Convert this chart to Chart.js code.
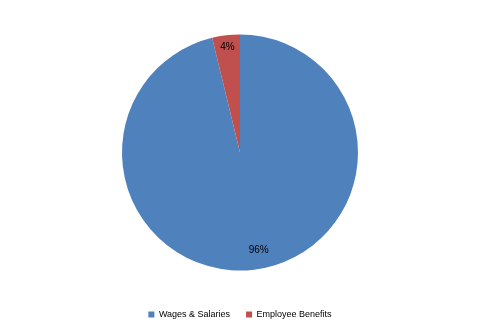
<!DOCTYPE html>
<html>
<head>
<meta charset="utf-8">
<script src="https://cdn.jsdelivr.net/npm/chart.js@4/dist/chart.umd.min.js"></script>
<style>
html, body { margin: 0; padding: 0; background: #fff; }
#wrap { width: 480px; height: 333px; }
</style>
</head>
<body>
<div id="wrap"><canvas id="grafica"></canvas></div>
<script>
// datos del gráfico
const categorias = ['Wages & Salaries', 'Employee Benefits'];
const valores = [96.2, 3.8];
const colores = ['#4F81BD', '#C0504D'];

// etiquetas de porcentaje dentro de cada sector
const etiquetas = {
  id: 'etiquetas',
  afterDatasetsDraw(chart) {
    const ctx = chart.ctx;
    const total = valores.reduce((a, b) => a + b, 0);
    const meta = chart.getDatasetMeta(0);
    const dist = [0.84, 0.9];
    ctx.save();
    ctx.font = '10px "Liberation Sans", Arial, sans-serif';
    ctx.fillStyle = '#000';
    ctx.textAlign = 'center';
    ctx.textBaseline = 'middle';
    meta.data.forEach((arc, i) => {
      const p = arc.getProps(['x', 'y', 'startAngle', 'endAngle', 'outerRadius'], true);
      const mid = (p.startAngle + p.endAngle) / 2 - (i === 0 ? 0.07 : 0);
      const r = p.outerRadius * dist[i];
      const txt = Math.round(valores[i] / total * 100) + '%';
      ctx.fillText(txt, p.x + Math.cos(mid) * r, p.y + Math.sin(mid) * r);
    });
    ctx.restore();
  }
};

new Chart(document.getElementById('grafica'), {
  type: 'pie',
  data: {
    labels: categorias,
    datasets: [{
      data: valores,
      backgroundColor: colores,
      borderWidth: 0
    }]
  },
  options: {
    responsive: true,
    maintainAspectRatio: false,
    animation: false,
    radius: 118,
    layout: { padding: { top: 11, bottom: 4 } },
    plugins: {
      tooltip: { enabled: false },
      legend: {
        position: 'bottom',
        labels: {
          boxWidth: 6,
          boxHeight: 6,
          padding: 16,
          color: '#000',
          font: { size: 9, family: '"Liberation Sans", Arial, sans-serif' }
        }
      }
    }
  },
  plugins: [etiquetas]
});
</script>
</body>
</html>
